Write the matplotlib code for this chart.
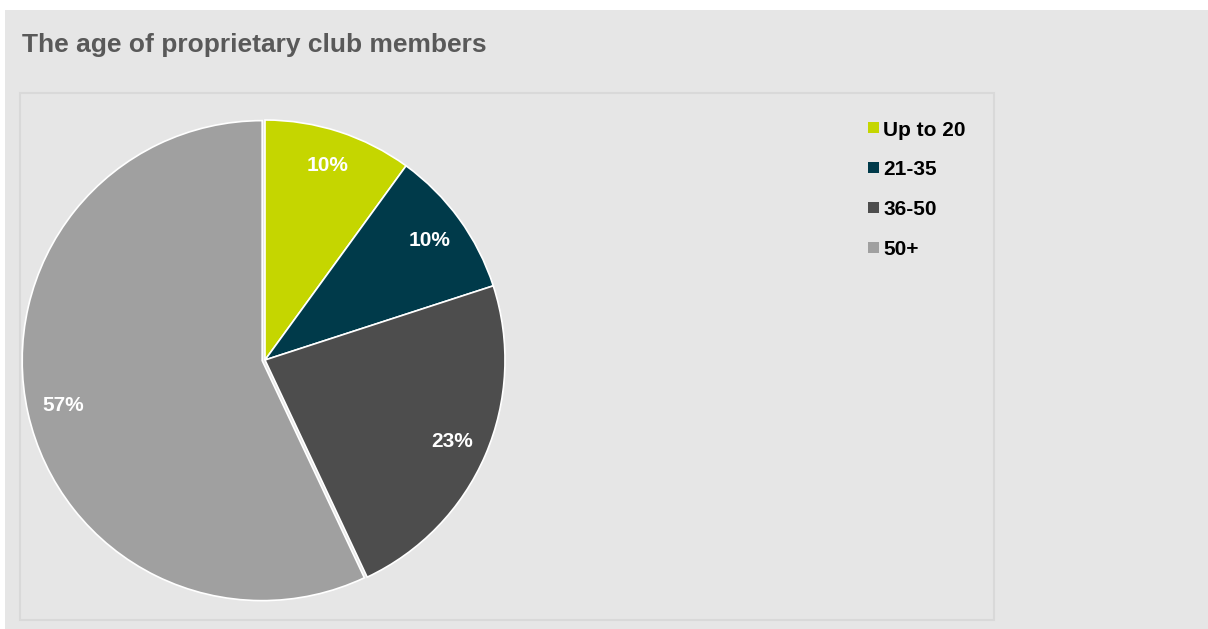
import matplotlib.pyplot as plt
from matplotlib.patches import Rectangle

# age groups and their share of members (percent)
ageGroups = ["Up to 20", "21-35", "36-50", "50+"]
shares = [10, 10, 23, 57]
sliceColors = ["#c5d600", "#003a4a", "#4d4d4d", "#a0a0a0"]
explodeBy = [0, 0, 0, 0.012]

W, H = 1208, 629
fig = plt.figure(figsize=(W / 100, H / 100), dpi=100)
fig.patch.set_facecolor("white")

# grey backdrop and the framed plot area
fig.patches.append(Rectangle((5 / W, 0), (W - 5) / W, (H - 10) / H,
                             transform=fig.transFigure, facecolor="#e6e6e6",
                             edgecolor="none", zorder=-2))
fig.patches.append(Rectangle((20 / W, (H - 620) / H), 974 / W, 527 / H,
                             transform=fig.transFigure, facecolor="#e6e6e6",
                             edgecolor="#d9d9d9", linewidth=1.5, zorder=-1))

fig.text(22 / W, 1 - 52 / H, "The age of proprietary club members",
         fontsize=19, fontweight="bold", color="#595959",
         family="Liberation Sans", va="baseline", ha="left")

# pie axes: centre (265, 360) px, radius 240 px
cx, cy, r = 265, 360, 240
ax = fig.add_axes([(cx - r) / W, (H - cy - r) / H, 2 * r / W, 2 * r / H])
ax.set_zorder(1)
ax.pie(shares, colors=sliceColors, startangle=90, counterclock=False,
       explode=explodeBy, autopct=lambda p: "%.0f%%" % p, pctdistance=0.85,
       wedgeprops=dict(edgecolor="white", linewidth=1.2),
       textprops=dict(color="white", fontsize=15, fontweight="bold",
                      family="Liberation Sans"))
ax.set_xlim(-1, 1)
ax.set_ylim(-1, 1)
ax.set_aspect("auto")
ax.axis("off")

# legend: small square swatch followed by the label
for i, (name, col) in enumerate(zip(ageGroups, sliceColors)):
    yc = 128 + i * 39.7
    fig.patches.append(Rectangle((868 / W, 1 - (yc + 5.5) / H), 11 / W, 11 / H,
                                 transform=fig.transFigure, facecolor=col,
                                 edgecolor="none"))
    fig.text(883 / W, 1 - yc / H, name, fontsize=15, fontweight="bold",
             color="black", family="Liberation Sans", va="center_baseline",
             ha="left")

fig.savefig("out.png", dpi=100, facecolor=fig.get_facecolor())
